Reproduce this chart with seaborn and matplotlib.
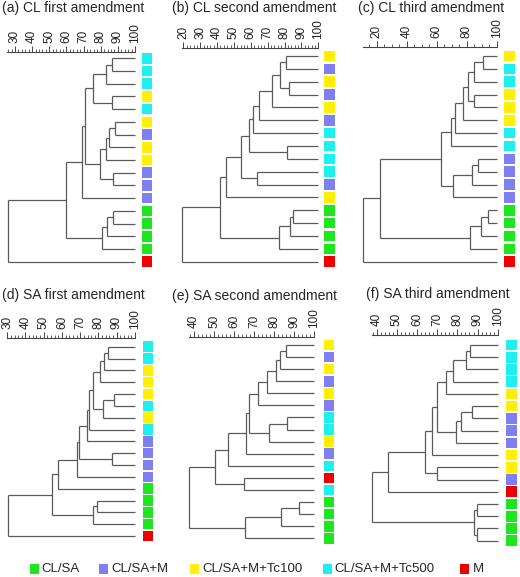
import numpy as np
import pandas as pd
import matplotlib
matplotlib.use("Agg")
import matplotlib.pyplot as plt
import seaborn as sns
from matplotlib.patches import Rectangle

sns.set_style("white")
plt.rcParams["font.family"] = ["Liberation Sans", "DejaVu Sans"]

# ---------- data ----------
G, P, Y, C, R = "CL/SA", "CL/SA+M", "CL/SA+M+Tc100", "CL/SA+M+Tc500", "M"
GROUPS = [G, P, Y, C, R]
PALETTE = {G: "#1ee61e", P: "#7f7ff2", Y: "#fff000", C: "#1ef0f0", R: "#ee0000"}

TITLES = ["(a) CL first amendment", "(b) CL second amendment", "(c) CL third amendment",
          "(d) SA first amendment", "(e) SA second amendment", "(f) SA third amendment"]

# leaf groups, top to bottom
A_LEAVES = [C, C, C, Y, C, Y, P, Y, Y, P, P, P, G, G, G, G, R]
B_LEAVES = [Y, P, Y, P, Y, P, C, C, C, C, P, Y, G, G, G, G, R]
C_LEAVES = [Y, C, C, Y, Y, Y, C, C, P, P, P, P, G, G, G, G, R]
D_LEAVES = [C, C, Y, Y, Y, C, Y, C, P, P, P, P, G, G, G, G, R]
E_LEAVES = [Y, P, Y, P, Y, P, C, C, Y, P, C, R, C, G, G, G, G]
F_LEAVES = [C, C, C, C, Y, Y, P, P, P, Y, Y, P, R, G, G, G, G]

# merges (node, node, similarity %); new node ids continue from 17
A_MERGES = [(0, 1, 86.4), (17, 2, 82.9), (3, 4, 86.4), (18, 19, 75.7), (5, 6, 88.3),
            (21, 7, 84.8), (22, 8, 83.1), (9, 10, 87.4), (23, 24, 79.6), (20, 25, 70.8),
            (26, 11, 68.9), (12, 13, 87.4), (28, 14, 83.9), (29, 15, 80.6), (27, 30, 59.6),
            (31, 16, 26.1)]
B_MERGES = [(0, 1, 80.7), (2, 3, 82.6), (17, 18, 77.3), (19, 4, 72.4), (20, 5, 65.1),
            (21, 6, 61.1), (7, 8, 81.3), (22, 23, 59.1), (9, 10, 63.5), (24, 25, 54.2),
            (26, 11, 45.1), (12, 13, 85.2), (28, 14, 83.2), (29, 15, 76.9), (27, 30, 41.7),
            (31, 16, 19.0)]
C_MERGES = [(0, 1, 91.1), (17, 2, 85.1), (3, 4, 85.1), (18, 19, 81.1), (20, 5, 77.3),
            (21, 6, 72.2), (22, 7, 69.3), (8, 9, 87.8), (24, 10, 83.8), (25, 11, 70.7),
            (23, 26, 62.7), (12, 13, 94.0), (28, 14, 89.6), (29, 15, 82.2), (27, 30, 22.2),
            (31, 16, 10.7)]
D_MERGES = [(0, 1, 85.4), (17, 2, 83.2), (18, 3, 80.8), (4, 5, 88.5), (20, 6, 82.6),
            (19, 21, 77.1), (22, 7, 75.0), (23, 8, 73.5), (9, 10, 87.2), (24, 25, 69.5),
            (26, 11, 68.2), (27, 12, 57.8), (13, 14, 79.0), (29, 15, 77.1), (28, 30, 54.3),
            (31, 16, 30.5)]
E_MERGES = [(0, 1, 85.9), (17, 2, 83.1), (18, 3, 81.1), (19, 4, 76.5), (20, 5, 71.8),
            (6, 7, 86.4), (22, 8, 77.6), (21, 23, 67.4), (24, 9, 66.2), (25, 10, 57.1),
            (11, 12, 64.9), (26, 27, 50.4), (13, 14, 92.6), (29, 15, 83.5), (30, 16, 65.4),
            (28, 31, 37.5)]
F_MERGES = [(0, 1, 86.3), (17, 2, 84.1), (18, 3, 78.0), (19, 4, 74.4), (5, 6, 87.1),
            (21, 7, 81.6), (22, 8, 79.3), (20, 23, 70.0), (24, 9, 67.3), (10, 11, 70.0),
            (25, 26, 64.0), (27, 12, 45.5), (13, 14, 89.6), (15, 16, 89.9), (29, 30, 88.4),
            (28, 31, 37.5)]

# ---------- layout (pixels) ----------
# ruler start px, start value, px of 100, ruler y, first leaf y, last leaf y,
# square centre px, major/minor step, title x, title y
LAYOUT = [
    dict(x0=7.3, v0=25.5, x100=135, yr=51.7, y0=58.3, y1=261.7, sq=147.0, maj=10, mnr=2, tx=2, ty=8),
    dict(x0=181.7, v0=19.0, x100=318.3, yr=48.3, y0=56.0, y1=261.7, sq=329.5, maj=10, mnr=2, tx=172, ty=8),
    dict(x0=362.7, v0=10.7, x100=496.7, yr=46.7, y0=56.0, y1=261.7, sq=509.5, maj=20, mnr=5, tx=358, ty=8),
    dict(x0=6.7, v0=29.7, x100=135, yr=338.3, y0=346.7, y1=536.0, sq=148.0, maj=10, mnr=2, tx=2, ty=295.5),
    dict(x0=189.0, v0=37.5, x100=314, yr=336.7, y0=345.0, y1=538.3, sq=328.8, maj=10, mnr=2, tx=172.5, ty=296),
    dict(x0=371.7, v0=37.5, x100=497.7, yr=335.0, y0=345.0, y1=540.7, sq=511.7, maj=10, mnr=2, tx=366, ty=294),
]

W, H = 520, 577
fig = plt.figure(figsize=(W / 100, H / 100), dpi=100)
LINE = "#5a5a5a"


def px_axes(left, top, right, bottom):
    return fig.add_axes([left / W, 1 - bottom / H, (right - left) / W, (bottom - top) / H])


def draw_tree(ax, merges, n):
    ypos = list(range(n))
    xpos = [100.0] * n
    for a, b, h in merges:
        for c in (a, b):
            ax.plot([xpos[c], h], [ypos[c], ypos[c]], color=LINE, lw=0.9,
                    solid_capstyle="butt", clip_on=False)
        ax.plot([h, h], [ypos[a], ypos[b]], color=LINE, lw=0.9,
                solid_capstyle="butt", clip_on=False)
        ypos.append((ypos[a] + ypos[b]) / 2)
        xpos.append(h)


panels = zip(TITLES, [A_LEAVES, B_LEAVES, C_LEAVES, D_LEAVES, E_LEAVES, F_LEAVES],
             [A_MERGES, B_MERGES, C_MERGES, D_MERGES, E_MERGES, F_MERGES], LAYOUT)

for title, leaves, merges, L in panels:
    n = len(leaves)
    ppu = (L["x100"] - L["x0"]) / (100 - L["v0"])
    extra = 30
    sp = (L["y1"] - L["y0"]) / (n - 1)
    ax = px_axes(L["x0"], L["yr"], L["x100"] + extra, L["y1"] + 10)
    ax.set_xlim(L["v0"], 100 + extra / ppu)
    ax.set_ylim(n - 1 + 10 / sp, -(L["y0"] - L["yr"]) / sp)

    draw_tree(ax, merges, n)

    df = pd.DataFrame({"x": 100 + (L["sq"] - L["x100"]) / ppu,
                       "y": np.arange(n), "group": leaves})
    sns.scatterplot(data=df, x="x", y="y", hue="group", palette=PALETTE, marker="s",
                    s=58, linewidth=0, legend=False, ax=ax, clip_on=False)

    # ruler on top
    for side in ["left", "right", "bottom"]:
        ax.spines[side].set_visible(False)
    ax.spines["top"].set_bounds(L["v0"], 100)
    ax.spines["top"].set_color("#444444")
    ax.spines["top"].set_linewidth(0.8)
    start = np.ceil(L["v0"] / L["maj"]) * L["maj"]
    majors = np.arange(start, 100.01, L["maj"])
    minors = np.arange(np.ceil(L["v0"] / L["mnr"]) * L["mnr"], 100.01, L["mnr"])
    ax.xaxis.tick_top()
    ax.set_xticks(majors)
    ax.set_xticklabels([str(int(v)) for v in majors])
    ax.set_xticks(minors, minor=True)
    ax.set_yticks([])
    ax.set_xlabel("")
    ax.set_ylabel("")
    ax.tick_params(axis="x", which="major", direction="out", length=4, width=0.7,
                   color="#444444", pad=2.5, labelsize=8.5, labelrotation=90,
                   labelcolor="#222222",
                   top=True, bottom=False, labeltop=True, labelbottom=False)
    ax.tick_params(axis="x", which="minor", direction="out", length=2, width=0.6,
                   color="#444444", top=True, bottom=False)
    ax.patch.set_alpha(0)

    fig.text(L["tx"] / W, 1 - L["ty"] / H, title, ha="left", va="center", fontsize=10)

# ---------- legend ----------
LEG_SQ = [30, 99, 190, 322.5, 459.5]
LEG_TX = [41, 111, 202, 334, 473]
leg_y = 569
for g, sx, tx in zip(GROUPS, LEG_SQ, LEG_TX):
    fig.patches.append(Rectangle((sx / W, 1 - (leg_y + 4.7) / H), 9.2 / W, 9.4 / H,
                                 transform=fig.transFigure, facecolor=PALETTE[g],
                                 edgecolor="none"))
    fig.text(tx / W, 1 - leg_y / H, g, ha="left", va="center", fontsize=9.5)

fig.savefig("out.png", dpi=100)
